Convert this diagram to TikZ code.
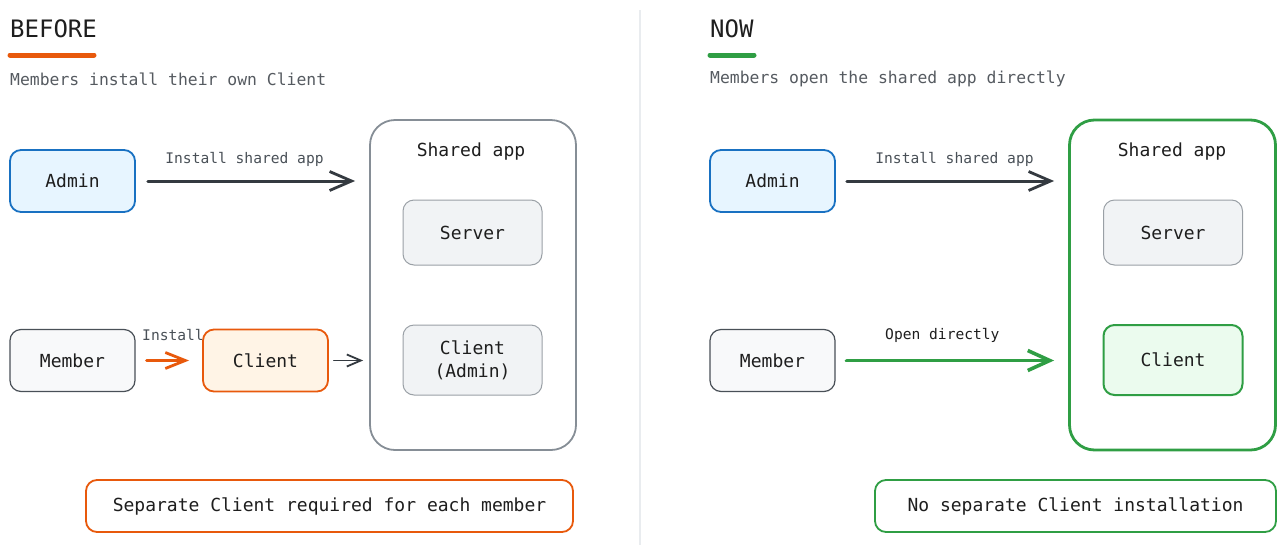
\documentclass[tikz,border=0pt]{standalone}
\usepackage{fontspec}
\setmonofont{DejaVu Sans Mono}
\usetikzlibrary{arrows.meta}
\definecolor{ink}{HTML}{1E1E1E}
\definecolor{subgray}{HTML}{555A60}
\definecolor{dark}{HTML}{343A40}
\definecolor{bluebd}{HTML}{1971C2}
\definecolor{bluefill}{HTML}{E7F5FF}
\definecolor{orangebd}{HTML}{E8590C}
\definecolor{orangefill}{HTML}{FFF4E6}
\definecolor{greenbd}{HTML}{2F9E44}
\definecolor{greenfill}{HTML}{EBFBEE}
\definecolor{srvfill}{HTML}{F1F3F5}
\definecolor{srvbd}{HTML}{9AA0A6}
\definecolor{memfill}{HTML}{F8F9FA}
\definecolor{membd}{HTML}{495057}
\definecolor{outerbd}{HTML}{868E96}
\definecolor{divider}{HTML}{E9ECEF}
\tikzset{
  boxtext/.style={font=\ttfamily\fontsize{18}{23}\selectfont, text=ink, align=center},
  smallbox/.style={boxtext, draw, rounded corners=11pt, inner sep=0pt, minimum width=125pt, minimum height=62pt},
  appbox/.style={boxtext, draw=srvbd, fill=srvfill, line width=1pt, rounded corners=11pt, inner sep=0pt, minimum width=139pt},
  outerbox/.style={draw, fill=white, rounded corners=25pt, inner sep=0pt, minimum width=206pt, minimum height=330pt},
  notebox/.style={boxtext, draw, line width=1.8pt, rounded corners=11pt, inner sep=0pt, minimum height=52pt},
  lbl/.style={font=\ttfamily\fontsize{14.6}{17}\selectfont, text=membd},
  subtitle/.style={font=\ttfamily\fontsize{16.4}{19}\selectfont, text=subgray, anchor=west, inner sep=0pt},
  title/.style={font=\ttfamily\fontsize{24}{28}\selectfont, text=ink, anchor=base west, inner sep=0pt},
  arr/.style={-{Straight Barb[length=22pt,width=19pt,line width=2.8pt]}, line width=3pt, line cap=round},
}
\begin{document}
\begin{tikzpicture}[x=1pt,y=-1pt]
\useasboundingbox (0,0) rectangle (1285,555);
% divider
\coordinate (dtop) at (640,10);
\coordinate (dbot) at (640,545);
\draw[divider, line width=2.5pt] (dtop) -- (dbot);

% ---------------- BEFORE ----------------
\node[title] (tb) at (10,37) {BEFORE};
\coordinate (ub1) at (10,55);
\coordinate (ub2) at (94,55);
\draw[orangebd, line width=5pt, line cap=round] (ub1) -- (ub2);
\node[subtitle] (sb) at (10,79) {Members install their own Client};

\node[outerbox, draw=outerbd, line width=1.8pt] (sharedL) at (473,285) {};
\node[boxtext] (sharedLt) at (471,152) {Shared app};
\node[appbox, minimum height=65pt] (serverL) at (472.5,232.5) {Server};
\node[appbox, minimum height=70pt] (cadminL) at (472.5,360) {Client\\(Admin)};

\node[smallbox, draw=bluebd, fill=bluefill, line width=1.8pt] (adminL) at (72.5,181) {Admin};
\node[smallbox, draw=membd, fill=memfill, line width=1.2pt] (memberL) at (72.5,360.5) {Member};
\node[smallbox, draw=orangebd, fill=orangefill, line width=1.8pt] (clientL) at (265.5,360.5) {Client};

\draw[arr, dark] ([xshift=12pt]adminL.east) -- ([xshift=-14pt]adminL.east -| sharedL.west)
  node[lbl, midway, above=10pt, xshift=-7pt] {Install shared app};
\draw[arr, orangebd, -{Straight Barb[length=20pt,width=16pt,line width=2.8pt]}] ([xshift=11pt]memberL.east) -- ([xshift=-13pt]clientL.west);
\node[lbl] (instlbl) at (173,335) {Install};
\draw[dark, line width=1.8pt, line cap=round, -{Straight Barb[length=14pt,width=12pt,line width=1.8pt]}] ([xshift=5pt]clientL.east) -- ([xshift=-6pt]clientL.east -| sharedL.west);

\node[notebox, draw=orangebd, fill=white, minimum width=487pt] (noteL) at (329.5,506) {Separate Client required for each member};

% ---------------- NOW ----------------
\node[title] (tn) at (710,37) {NOW};
\coordinate (un1) at (710,55);
\coordinate (un2) at (754,55);
\draw[greenbd, line width=5pt, line cap=round] (un1) -- (un2);
\node[subtitle] (sn) at (710,79) {Members open the shared app directly};

\node[outerbox, draw=greenbd, line width=2.8pt] (sharedR) at (1172.5,285) {};
\node[boxtext] (sharedRt) at (1172,152) {Shared app};
\node[appbox, minimum height=65pt] (serverR) at (1173,232.5) {Server};
\node[appbox, draw=greenbd, fill=greenfill, line width=2pt, minimum height=70pt] (clientR) at (1173,360) {Client};

\node[smallbox, draw=bluebd, fill=bluefill, line width=1.8pt] (adminR) at (772.5,181) {Admin};
\node[smallbox, draw=membd, fill=memfill, line width=1.2pt] (memberR) at (772.5,360.5) {Member};

\draw[arr, dark] ([xshift=11pt]adminR.east) -- ([xshift=-14pt]adminR.east -| sharedR.west)
  node[lbl, midway, above=10pt, xshift=4pt] {Install shared app};
\draw[arr, greenbd, line width=3.8pt, -{Straight Barb[length=22pt,width=20pt,line width=3.6pt]}] ([xshift=11pt]memberR.east) -- ([xshift=-14pt]memberR.east -| sharedR.west)
  node[lbl, text=ink, midway, above=13pt, xshift=-8pt] {Open directly};

\node[notebox, draw=greenbd, fill=white, minimum width=401pt] (noteR) at (1075.5,506) {No separate Client installation};
\end{tikzpicture}
\end{document}
